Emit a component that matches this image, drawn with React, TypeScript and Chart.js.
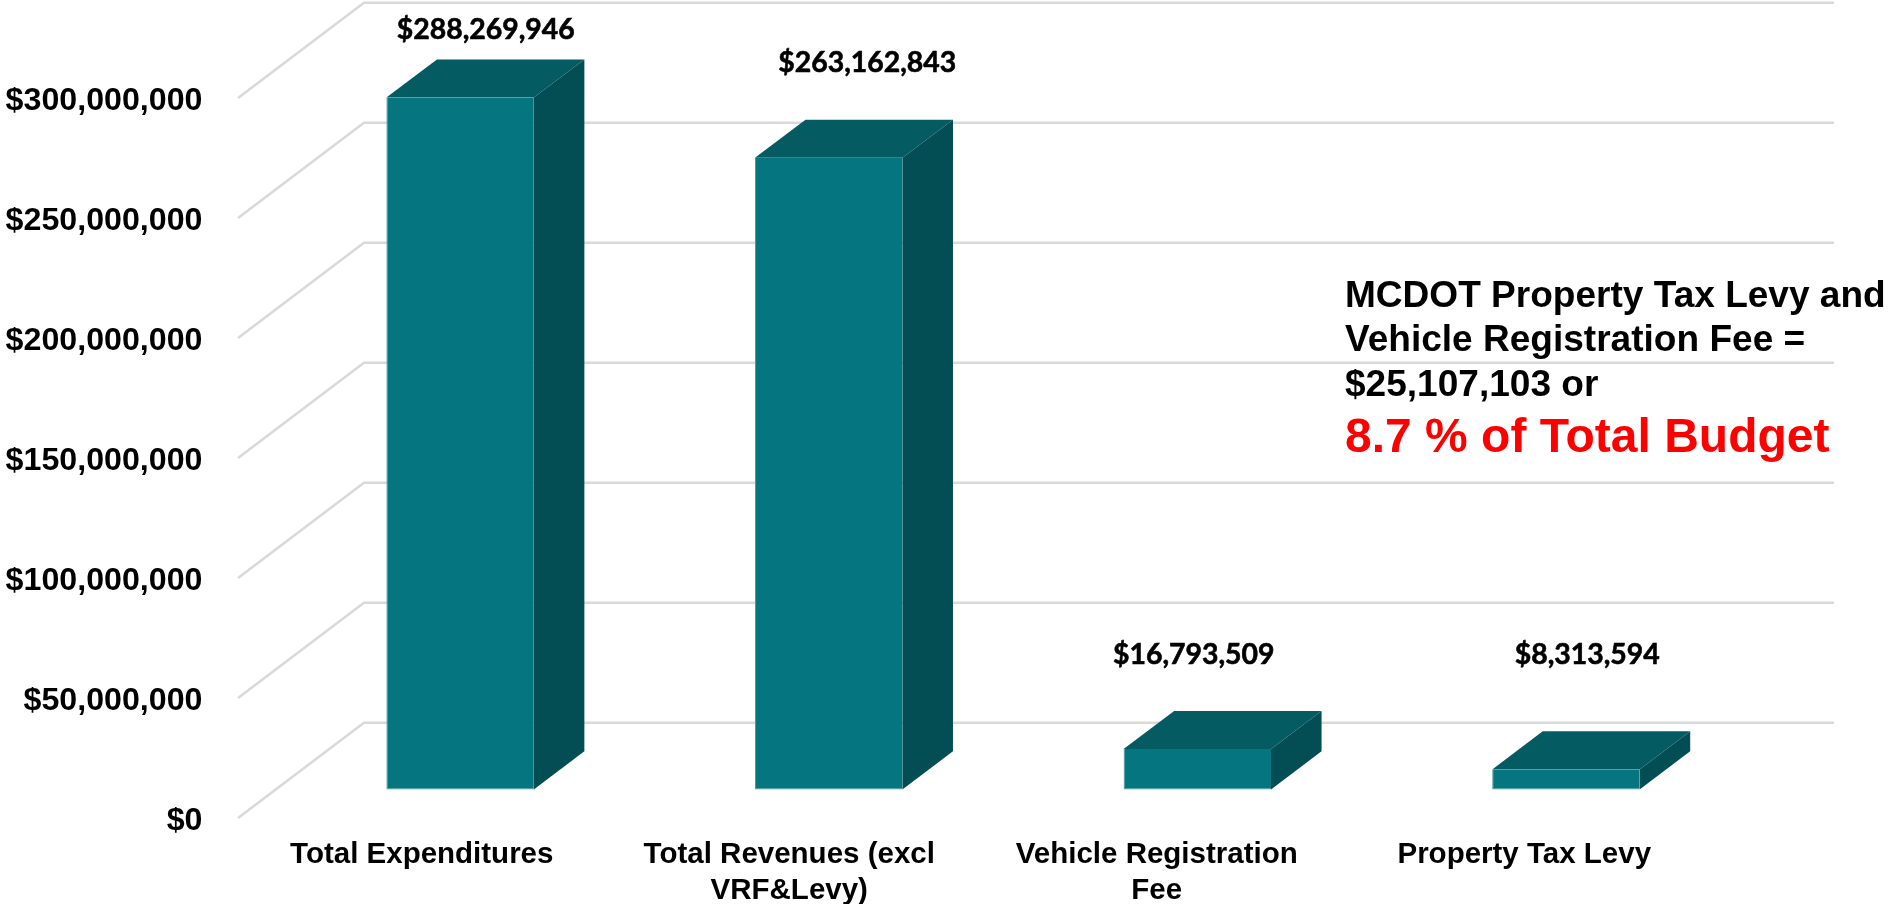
import React, { useEffect, useRef } from "react";
import { Chart, registerables } from "chart.js";

Chart.register(...registerables);

const categories = [
  "Total Expenditures",
  ["Total Revenues (excl", "VRF&Levy)"],
  ["Vehicle Registration", "Fee"],
  "Property Tax Levy",
];
const budgetValues = [288269946, 263162843, 16793509, 8313594];
const yTickStep = 50000000;
const yMax = 300000000;
const noteLines = ["MCDOT Property Tax Levy and", "Vehicle Registration Fee =", "$25,107,103 or"];
const noteHighlight = "8.7 % of Total Budget";

// manual nudges of the value labels, as placed in the original slide
const labelNudgeX = [1, 15, -26, 0];
const labelLift = [30, 57, 56.5, 76];

const WALL_DX = 126;
const WALL_DY = -95.3;
const BAR_SHIFT_X = WALL_DX * 0.3;
const BAR_SHIFT_Y = WALL_DY * 0.3;
const BAR_DEPTH_X = WALL_DX * 0.4;
const BAR_DEPTH_Y = WALL_DY * 0.4;
const BAR_STEP_RATIO = 1.003;

const FRONT = "#05757f";
const FRONT_EDGE = "#4f9ca3";
const TOP = "#045b62";
const SIDE = "#034e54";
const GRID = "#d9d9d9";

const money = (v: number) => "$" + Math.round(v).toLocaleString("en-US");

const poly = (ctx: CanvasRenderingContext2D, pts: number[][], color: string) => {
  ctx.fillStyle = color;
  ctx.beginPath();
  pts.forEach(([x, y], i) => (i ? ctx.lineTo(x, y) : ctx.moveTo(x, y)));
  ctx.closePath();
  ctx.fill();
};

const depthPlugin = {
  id: "depth",
  beforeDatasetsDraw(chart: any) {
    const { ctx, chartArea, scales } = chart;
    ctx.save();
    ctx.strokeStyle = GRID;
    ctx.lineWidth = 2.5;
    scales.y.ticks.forEach((t: any) => {
      const y = scales.y.getPixelForValue(t.value);
      ctx.beginPath();
      ctx.moveTo(chartArea.left, y);
      ctx.lineTo(chartArea.left + WALL_DX, y + WALL_DY);
      ctx.lineTo(chartArea.right + WALL_DX, y + WALL_DY);
      ctx.stroke();
    });
    ctx.restore();
  },
  beforeDatasetDraw(chart: any, args: any) {
    const { ctx, chartArea } = chart;
    ctx.save();
    ctx.translate(chartArea.left + BAR_SHIFT_X, BAR_SHIFT_Y);
    ctx.scale(BAR_STEP_RATIO, 1);
    ctx.translate(-chartArea.left, 0);
    args.meta.data.forEach((bar: any) => {
      const l = bar.x - bar.width / 2;
      const r = bar.x + bar.width / 2;
      const t = bar.y;
      const b = bar.base;
      poly(ctx, [[l, t], [r, t], [r + BAR_DEPTH_X, t + BAR_DEPTH_Y], [l + BAR_DEPTH_X, t + BAR_DEPTH_Y]], TOP);
      poly(ctx, [[r, t], [r + BAR_DEPTH_X, t + BAR_DEPTH_Y], [r + BAR_DEPTH_X, b + BAR_DEPTH_Y], [r, b]], SIDE);
    });
  },
  afterDatasetDraw(chart: any) {
    chart.ctx.restore();
  },
  afterDraw(chart: any) {
    const { ctx } = chart;
    const meta = chart.getDatasetMeta(0);
    ctx.save();
    ctx.fillStyle = "#000";
    ctx.strokeStyle = "#000";
    ctx.lineWidth = 0.6;
    ctx.textAlign = "center";
    ctx.textBaseline = "middle";
    ctx.font = "bold 28.4px Lato";
    meta.data.forEach((bar: any, i: number) => {
      const x = bar.x + BAR_SHIFT_X + BAR_DEPTH_X / 2 + labelNudgeX[i];
      const y = bar.y + BAR_SHIFT_Y + BAR_DEPTH_Y - labelLift[i];
      const text = money(budgetValues[i]);
      ctx.fillText(text, x, y);
      ctx.strokeText(text, x, y);
    });
    ctx.textAlign = "left";
    ctx.textBaseline = "alphabetic";
    ctx.font = 'bold 37.05px "Liberation Sans"';
    const noteX = 1345;
    const noteBase = 306.5;
    const noteStep = 44.8;
    noteLines.forEach((line, i) => ctx.fillText(line, noteX, noteBase + i * noteStep));
    ctx.fillStyle = "#ff0000";
    ctx.font = 'bold 48px "Liberation Sans"';
    ctx.fillText(noteHighlight, noteX, 452);
    ctx.restore();
  },
};

export default function App() {
  const ref = useRef<HTMLCanvasElement>(null);
  useEffect(() => {
    document.body.style.margin = "0";
    document.body.style.background = "#fff";
    const chart = new Chart(ref.current as HTMLCanvasElement, {
      type: "bar",
      data: {
        labels: categories as any,
        datasets: [
          {
            data: budgetValues,
            backgroundColor: FRONT,
            borderColor: FRONT_EDGE,
            borderWidth: { left: 1, bottom: 1, top: 0, right: 0 },
            borderSkipped: false,
            barPercentage: 0.4,
            categoryPercentage: 1,
            clip: false as any,
          },
        ],
      },
      options: {
        responsive: false,
        animation: false,
        layout: { padding: { top: 98, right: 183, left: 0, bottom: 0 } },
        plugins: { legend: { display: false }, tooltip: { enabled: false }, title: { display: false } },
        scales: {
          x: {
            grid: { display: false },
            border: { display: false },
            afterFit: (s: any) => {
              s.height = 86;
            },
            ticks: {
              color: "#000",
              autoSkip: false,
              maxRotation: 0,
              minRotation: 0,
              padding: 11,
              font: { family: "Liberation Sans", weight: "bold", size: 29.5, lineHeight: 1.22 },
            },
          },
          y: {
            min: 0,
            max: yMax,
            grid: { display: false },
            border: { display: false },
            afterFit: (s: any) => {
              s.width = 238;
            },
            ticks: {
              stepSize: yTickStep,
              color: "#000",
              padding: 27.5,
              labelOffset: 3,
              font: { family: "Liberation Sans", weight: "bold", size: 32.2 },
              callback: (v: any) => money(Number(v)),
            },
          },
        },
      } as any,
      plugins: [depthPlugin as any],
    });
    return () => chart.destroy();
  }, []);
  return (
    <canvas
      ref={ref}
      width={1891}
      height={904}
      style={{ position: "absolute", left: 0, top: 0, display: "block", width: 1891, height: 904 }}
    />
  );
}
